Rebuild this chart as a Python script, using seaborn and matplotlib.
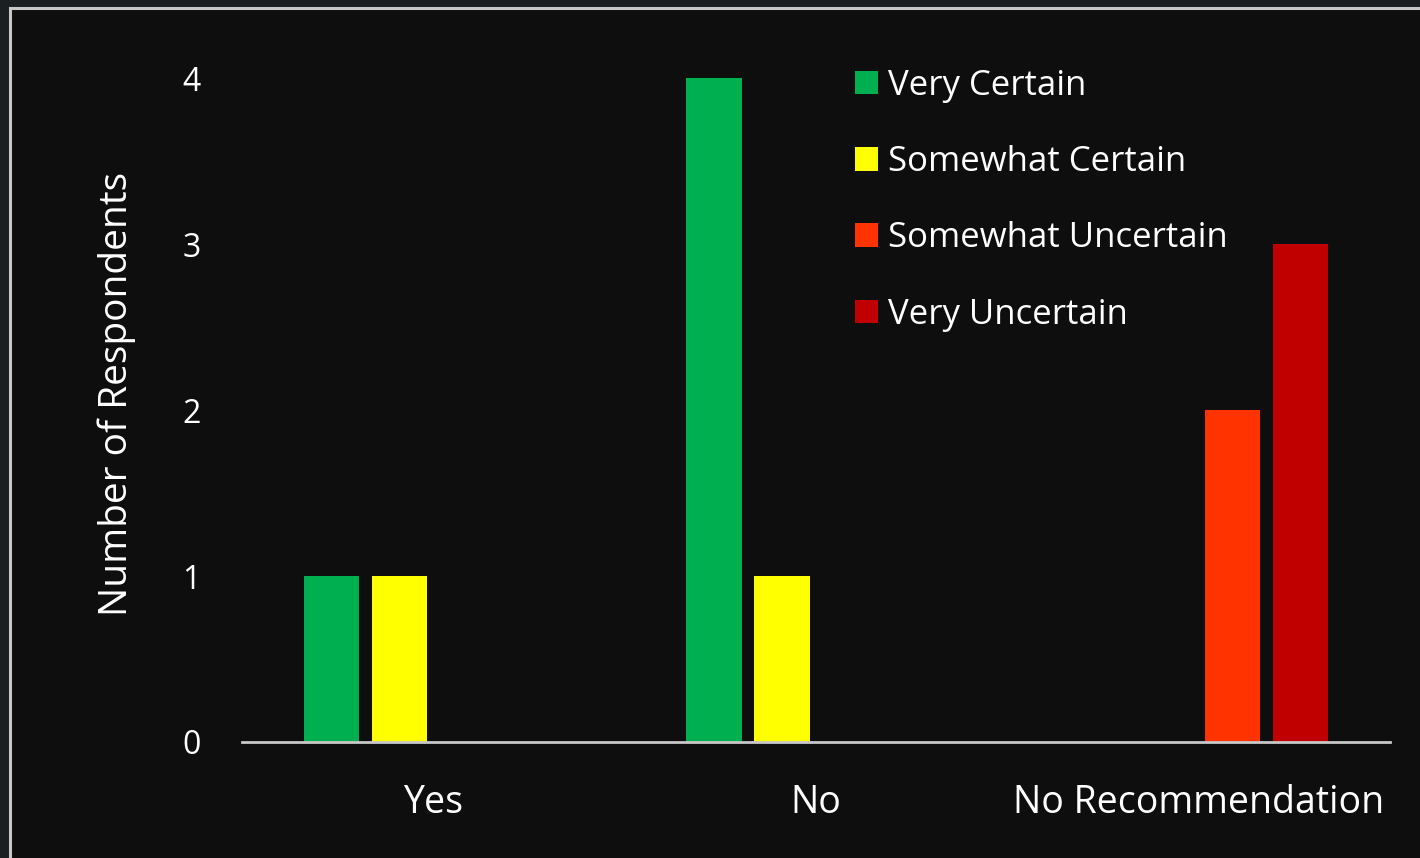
import matplotlib
matplotlib.use("Agg")
import matplotlib.pyplot as plt
from matplotlib.patches import Rectangle
import seaborn as sns
import pandas as pd

categories = ["Yes", "No", "No Recommendation"]
levels = ["Very Certain", "Somewhat Certain", "Somewhat Uncertain", "Very Uncertain"]
very_certain = [1, 4, 0]
somewhat_certain = [1, 1, 0]
somewhat_uncertain = [0, 0, 2]
very_uncertain = [0, 0, 3]
colors = ["#00b050", "#ffff00", "#ff3300", "#c00000"]
yticks = [0, 1, 2, 3, 4]

rows = []
for lvl, vals in zip(levels, [very_certain, somewhat_certain, somewhat_uncertain, very_uncertain]):
    for c, v in zip(categories, vals):
        rows.append({"Recommendation": c, "Certainty": lvl, "Count": v})
df = pd.DataFrame(rows)

sns.set_theme(style="dark")
plt.rcParams["font.family"] = ["Open Sans", "DejaVu Sans"]

W, H = 1420, 858
fig = plt.figure(figsize=(W / 100, H / 100), dpi=100)
fig.patch.set_facecolor("#1b1f22")
bg = Rectangle((10 / W, -0.1), 1.2, 1 - 8 / H + 0.1, transform=fig.transFigure,
               facecolor="#0e0e0e", edgecolor="#c8c8c8", linewidth=2.2, zorder=-10)
fig.add_artist(bg)

ax = fig.add_axes([242 / W, 1 - 742 / H, (1390 - 242) / W, (742 - 45) / H])
ax.set_zorder(5)
ax.set_facecolor("none")
ax.patch.set_alpha(0)
sns.barplot(data=df, x="Recommendation", y="Count", hue="Certainty", order=categories,
            hue_order=levels, palette=colors, width=0.71, gap=0.18, saturation=1,
            linewidth=0, ax=ax, legend=True)

ax.set_ylim(0, 4.2)
ax.set_xlim(-0.5, 2.5)
ax.set_yticks(yticks)
ax.grid(False)
for s in ["top", "right", "left"]:
    ax.spines[s].set_visible(False)
ax.spines["bottom"].set_color("#c8c8c8")
ax.spines["bottom"].set_linewidth(2)
ax.tick_params(axis="both", length=0, colors="white")
ax.tick_params(axis="y", pad=30, labelsize=23)
ax.tick_params(axis="x", pad=30, labelsize=27)
ax.set_xlabel("")
ax.set_ylabel("Number of Respondents", color="white", fontsize=28, labelpad=33)

leg = ax.legend(loc="upper left", bbox_to_anchor=(0.522, 0.986), frameon=False,
                fontsize=25, labelcolor="white", handlelength=0.66, handleheight=0.66,
                handletextpad=0.3, labelspacing=1.22, borderaxespad=0)

fig.savefig("out.png", dpi=100, facecolor=fig.get_facecolor())
